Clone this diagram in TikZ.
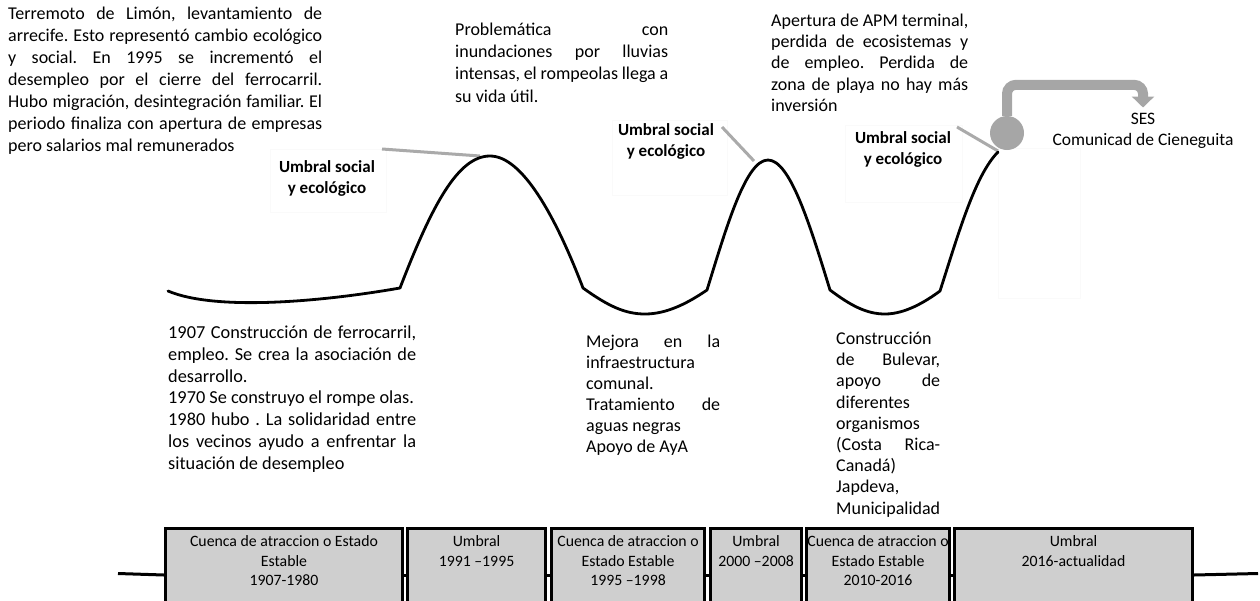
\documentclass[tikz,border=0pt]{standalone}
\usepackage{fontspec}
\setmainfont{Carlito}
\usetikzlibrary{arrows.meta}
\definecolor{leadgray}{RGB}{170,170,170}
\definecolor{dotgray}{RGB}{166,166,166}
\definecolor{boxgray}{RGB}{207,207,207}
\definecolor{framegray}{RGB}{250,250,250}
\frenchspacing
% one justified line of a given width (in pt)
\newcommand\jl[2]{\makebox[#1pt][s]{#2}}

\begin{document}
\begin{tikzpicture}[x=1pt,y=-1pt,
  body/.style={inner sep=0pt, anchor=north west, align=left, font=\fontsize{18}{#1}\selectfont},
  umbral/.style={font=\fontsize{17}{21}\selectfont\bfseries, align=center, inner sep=0pt, anchor=north},
  labelframe/.style={draw=framegray, line width=0.5pt, inner sep=0pt, anchor=north west},
  leader/.style={draw=leadgray, line width=3pt},
  curve/.style={line width=2.8pt, line cap=round, line join=round},
  stage/.style={draw=black, line width=3pt, fill=boxgray, anchor=north west, inner sep=0pt, minimum height=93pt},
  stagetext/.style={font=\fontsize{15.8}{19.5}\selectfont, align=center, anchor=north, inner sep=0pt},
  timeline/.style={line width=3pt},
  sesarrow/.style={draw=dotgray, line width=10pt, rounded corners=9pt, -{Triangle[width=22pt,length=11pt]}},
]
\useasboundingbox (0,0) rectangle (1260,600);

% faint frames of the threshold labels
\node[labelframe, minimum width=116pt, minimum height=63pt] (f1) at (270,149) {};
\node[labelframe, minimum width=115pt, minimum height=75pt] (f2) at (612,120) {};
\node[labelframe, minimum width=117pt, minimum height=77pt] (f3) at (845,125) {};
\node[labelframe, minimum width=82pt, minimum height=150pt] (f4) at (998,148) {};

% threshold labels
\node[umbral] (u1) at (327,157.5) {\strut Umbral social\\y ecológico};
\node[umbral] (u2) at (666,121) {\strut Umbral social\\y ecológico};
\node[umbral] (u3) at (903,129) {\strut Umbral social\\y ecológico};

% leader lines from the labels to the curve
\coordinate (l1) at (382,149); \coordinate (p1) at (480,156);
\coordinate (l2) at (722,127); \coordinate (p2) at (754,161);
\coordinate (l3) at (957,127); \coordinate (p3) at (998,151);
\draw[leader] (l1) -- (p1);
\draw[leader] (l2) -- (p2);
\draw[leader] (l3) -- (p3);

% the trajectory of the system
\draw[curve] (168,291) .. controls (215,311) and (320,302) .. (400,288)
  .. controls (432,205) and (458,156) .. (490,156)
  .. controls (522,156) and (555,215) .. (583,288)
  .. controls (608,306) and (625,314) .. (645,314)
  .. controls (667,314) and (688,303) .. (707,290)
  .. controls (727,225) and (746,160) .. (768,160)
  .. controls (790,160) and (810,225) .. (830,290)
  .. controls (850,305) and (866,314) .. (885,314)
  .. controls (905,314) and (925,302) .. (940,291)
  .. controls (958,235) and (975,175) .. (998,152);

% current state and the social-ecological system
\node[circle, fill=dotgray, minimum size=34pt, inner sep=0pt] (dot) at (1007,133) {};
\node[font=\fontsize{17.5}{21}\selectfont, align=center, inner sep=0pt, anchor=north] (ses) at (1143,109.5)
  {\strut SES\\Comunicad de Cieneguita};
\draw[sesarrow] (dot.north) -- ++(0,-31) -| ([yshift=2pt]ses.north);

% upper descriptions
\node[body=22] (da) at (8,3.5) {%
\strut\jl{314}{Terremoto de Limón, levantamiento de}\\
\jl{314}{arrecife. Esto representó cambio ecológico}\\
\jl{314}{y social. En 1995 se incrementó el}\\
\jl{314}{desempleo por el cierre del ferrocarril.}\\
\jl{314}{Hubo migración, desintegración familiar. El}\\
\jl{314}{periodo finaliza con apertura de empresas}\\
pero salarios mal remunerados};

\node[body=22.3] (db) at (455,19.3) {%
\strut\jl{213}{Problemática con}\\
\jl{213}{inundaciones por lluvias}\\
\jl{213}{intensas, el rompeolas llega a}\\
su vida útil.};

\node[body=21.3] (dc) at (771,11) {%
\strut\jl{197}{Apertura de APM terminal,}\\
\jl{197}{perdida de ecosistemas y}\\
\jl{197}{de empleo. Perdida de}\\
\jl{197}{zona de playa no hay más}\\
inversión};

% lower descriptions
\node[inner sep=0pt, anchor=north west, align=left, font=\fontsize{18.3}{21.7}\selectfont] (dd) at (168,323.5) {%
\strut\jl{248}{1907 Construcción de ferrocarril,}\\
\jl{248}{empleo. Se crea la asociación de}\\
desarrollo.\\
1970 Se construyo el rompe olas.\\
\jl{248}{1980 hubo . La solidaridad entre}\\
\jl{248}{los vecinos ayudo a enfrentar la}\\
situación de desempleo};

\node[body=21] (de) at (586,333) {%
\strut\jl{134}{Mejora en la}\\
infraestructura\\
comunal.\\
\jl{134}{Tratamiento de}\\
aguas negras\\
Apoyo de AyA};

\node[body=21.2] (df) at (836,329.5) {%
\strut Construcción\\
\jl{104}{de Bulevar,}\\
\jl{104}{apoyo de}\\
diferentes\\
organismos\\
\jl{104}{(Costa Rica-}\\
Canadá)\\
Japdeva,\\
Municipalidad};

% timeline of stages
\node[stage, minimum width=237pt] (s1) at (164,527) {};
\node[stage, minimum width=138pt] (s2) at (406,527) {};
\node[stage, minimum width=153pt] (s3) at (550,527) {};
\node[stage, minimum width=91pt]  (s4) at (709,527) {};
\node[stage, minimum width=143pt] (s5) at (805,527) {};
\node[stage, minimum width=238pt] (s6) at (953,527) {};

\node[stagetext] (t1) at ([yshift=-6pt]s1.north) {\strut Cuenca de atraccion o Estado\\Estable\\1907-1980};
\node[stagetext] (t2) at ([yshift=-6pt]s2.north) {\strut Umbral\\1991 –1995};
\node[stagetext] (t3) at ([yshift=-6pt]s3.north) {\strut Cuenca de atraccion o\\Estado Estable\\1995 –1998};
\node[stagetext] (t4) at ([yshift=-6pt]s4.north) {\strut Umbral\\2000 –2008};
\node[stagetext] (t5) at ([yshift=-6pt]s5.north) {\strut Cuenca de atraccion o\\Estado Estable\\2010-2016};
\node[stagetext] (t6) at ([yshift=-6pt]s6.north) {\strut Umbral\\2016-actualidad};

\coordinate (tl) at (118,573.5);
\coordinate (tr) at (1258,573.5);
\draw[timeline] (tl) -- (s1.west);
\draw[timeline] (s1.east) -- (s2.west);
\draw[timeline] (s2.east) -- (s3.west);
\draw[timeline] (s3.east) -- (s4.west);
\draw[timeline] (s4.east) -- (s5.west);
\draw[timeline] (s5.east) -- (s6.west);
\draw[timeline] (s6.east) -- (tr);
\end{tikzpicture}
\end{document}
